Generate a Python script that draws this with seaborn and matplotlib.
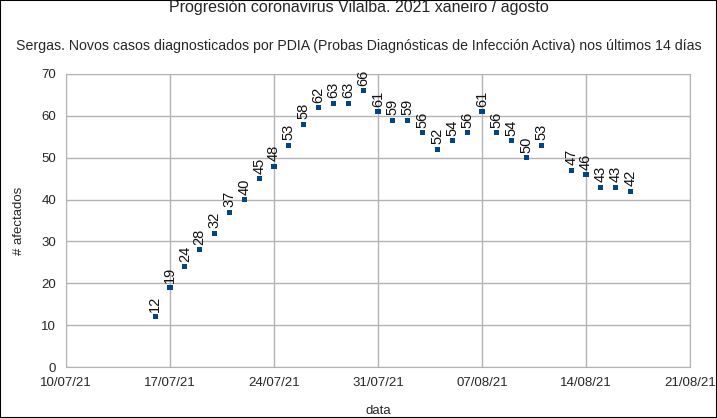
import pandas as pd
import matplotlib
matplotlib.use("Agg")
import matplotlib.pyplot as plt
import matplotlib.dates as mdates
import seaborn as sns

# datos: casos en los últimos 14 días (Vilalba)
fechas = ['2021-07-16', '2021-07-17', '2021-07-18', '2021-07-19', '2021-07-20',
          '2021-07-21', '2021-07-22', '2021-07-23', '2021-07-24', '2021-07-25',
          '2021-07-26', '2021-07-27', '2021-07-28', '2021-07-29', '2021-07-30',
          '2021-07-31', '2021-08-01', '2021-08-02', '2021-08-03', '2021-08-04',
          '2021-08-05', '2021-08-06', '2021-08-07', '2021-08-08', '2021-08-09',
          '2021-08-10', '2021-08-11', '2021-08-13', '2021-08-14', '2021-08-15',
          '2021-08-16', '2021-08-17']
casos = [12, 19, 24, 28, 32, 37, 40, 45, 48, 53, 58, 62, 63, 63, 66,
         61, 59, 59, 56, 52, 54, 56, 61, 56, 54, 50, 53, 47, 46, 43, 43, 42]

df = pd.DataFrame({'data': pd.to_datetime(fechas), 'afectados': casos})

sns.set_style('white')
plt.rcParams['font.family'] = ['Liberation Sans', 'DejaVu Sans']

fig = plt.figure(figsize=(7.17, 4.18), dpi=100)
ax = fig.add_axes([66 / 717, 1 - 367 / 418, 624 / 717, 293 / 418])

sns.scatterplot(data=df, x='data', y='afectados', ax=ax, marker='s', s=13,
                color='#004586', edgecolor='none', zorder=3)

for d, v in zip(df['data'], df['afectados']):
    ax.annotate(str(v), (d, v), xytext=(0, 3.5), textcoords='offset points',
                rotation=90, ha='center', va='bottom', fontsize=10.5, color='#111111')

ax.set_xlim(pd.Timestamp('2021-07-10'), pd.Timestamp('2021-08-21'))
ax.set_ylim(0, 70)
ax.set_yticks(range(0, 71, 10))
ax.set_xticks(pd.date_range('2021-07-10', '2021-08-21', freq='7D'))
ax.xaxis.set_major_formatter(mdates.DateFormatter('%d/%m/%y'))

ax.grid(True, color='#b3b3b3', linewidth=1)
ax.set_axisbelow(True)
for s in ax.spines.values():
    s.set_color('#b3b3b3')
ax.tick_params(axis='both', length=4, color='#b3b3b3', labelsize=9.5, pad=3)

ax.set_xlabel('data', fontsize=9.5, labelpad=12)
ax.set_ylabel('# afectados', fontsize=9.5, labelpad=12)

fig.text(0.5, 1.0, 'Progresión coronavirus Vilalba. 2021 xaneiro / agosto',
         ha='center', va='top', fontsize=11.5)
fig.text(0.5, 1 - 46 / 418, 'Sergas. Novos casos diagnosticados por PDIA (Probas Diagnósticas de Infección Activa) nos últimos 14 días',
         ha='center', va='center', fontsize=10.2)

fig.patches.append(plt.Rectangle((0, 0), 1, 1, transform=fig.transFigure,
                                 fill=False, edgecolor='black', linewidth=1.5))

fig.savefig('out.png', dpi=100)
